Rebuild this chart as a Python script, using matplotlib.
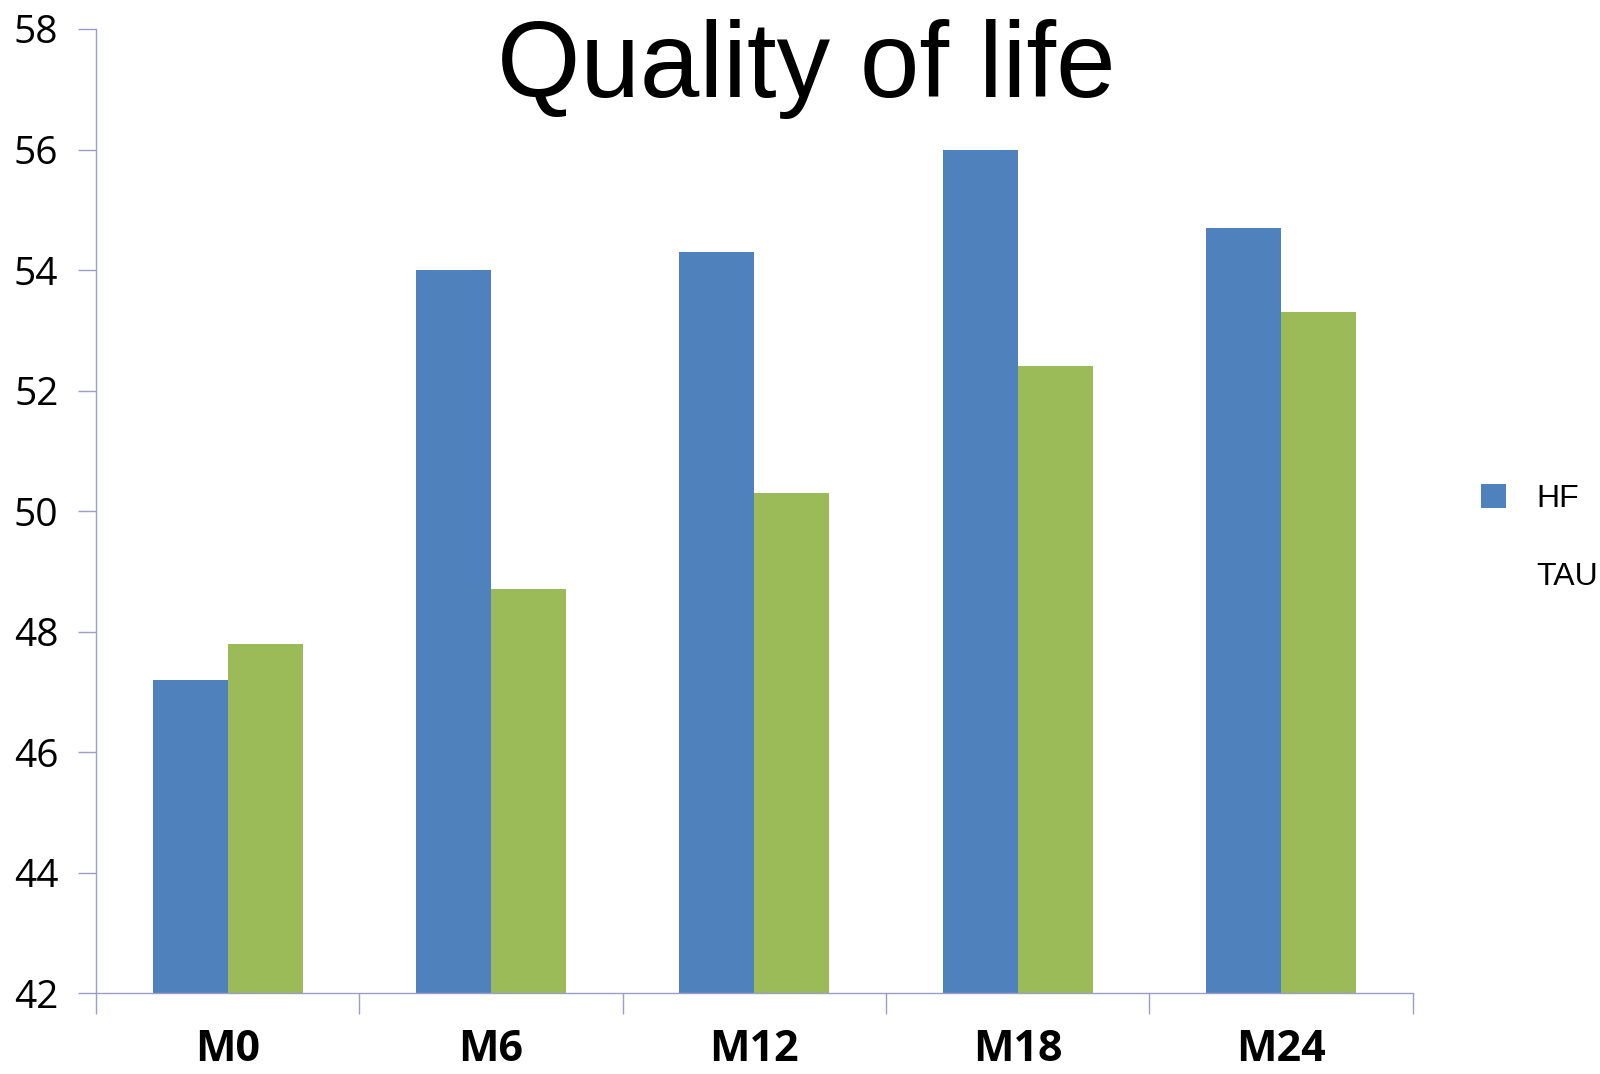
import matplotlib
matplotlib.use("Agg")
import matplotlib.pyplot as plt
from matplotlib.patches import Patch
import numpy as np

categories = ["M0", "M6", "M12", "M18", "M24"]
hf_values = [47.2, 54.0, 54.3, 56.0, 54.7]
tau_values = [47.8, 48.7, 50.3, 52.4, 53.3]
series_names = ["HF", "TAU"]
y_ticks = [42, 44, 46, 48, 50, 52, 54, 56, 58]

blue = "#4F81BD"
green = "#9BBB59"
axis_color = "#9C9CC9"

fig = plt.figure(figsize=(16, 10.74), dpi=100)
ax = fig.add_axes([0.06, 0.0754, 0.823, 0.8976])

x = np.arange(len(categories))
w = 0.285
base = 42
ax.bar(x - w / 2, np.array(hf_values) - base, width=w, bottom=base, color=blue, edgecolor="none")
ax.bar(x + w / 2, np.array(tau_values) - base, width=w, bottom=base, color=green, edgecolor="none")

ax.set_xlim(-0.5, len(categories) - 0.5)
ax.set_ylim(42, 58)
ax.set_yticks(y_ticks)
ax.set_yticklabels([str(v) for v in y_ticks], fontfamily="Open Sans", fontsize=28)

# category labels centred, tick marks at category boundaries
ax.set_xticks(x)
ax.set_xticklabels(categories, fontfamily="Open Sans", fontweight="bold", fontsize=31)
ax.tick_params(axis="x", which="major", length=0, pad=25)
ax.set_xticks(np.arange(len(categories) + 1) - 0.5, minor=True)
ax.tick_params(axis="x", which="minor", length=15, width=1, color=axis_color, direction="out")
ax.tick_params(axis="y", length=13, width=1, color=axis_color, direction="out", pad=14)

for side in ["top", "right"]:
    ax.spines[side].set_visible(False)
for side in ["left", "bottom"]:
    ax.spines[side].set_color(axis_color)
    ax.spines[side].set_linewidth(1)

fig.text(0.504, 0.936, "Quality of life", ha="center", va="center",
         fontfamily="Liberation Sans", fontsize=77)

handles = [Patch(facecolor=blue, edgecolor="none"), Patch(facecolor=green, edgecolor="none")]
leg = fig.legend(handles, series_names, loc="center left", bbox_to_anchor=(0.9255, 0.499),
                 frameon=False, prop={"family": "Liberation Sans", "size": 23},
                 handlelength=0.8, handleheight=0.8, handletextpad=0.95, labelspacing=1.5,
                 borderaxespad=0, borderpad=0)
leg.legend_handles[1].set_visible(False)

fig.savefig("out.png", dpi=100)
